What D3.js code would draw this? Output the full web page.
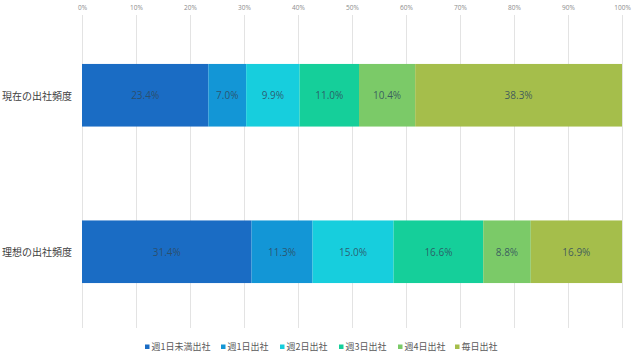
<!DOCTYPE html>
<html><head><meta charset="utf-8">
<script src="https://cdn.jsdelivr.net/npm/d3@7"></script>
<style>
html,body{margin:0;padding:0;background:#fff;}
svg{display:block;font-family:"Noto Sans CJK JP","Noto Sans",sans-serif;}
</style></head>
<body><svg id="c" width="638" height="356"></svg>
<script>
const categories = ["現在の出社頻度", "理想の出社頻度"];
const seriesNames = ["週1日未満出社", "週1日出社", "週2日出社", "週3日出社", "週4日出社", "毎日出社"];
const currentValues = [23.4, 7.0, 9.9, 11.0, 10.4, 38.3];
const idealValues = [31.4, 11.3, 15.0, 16.6, 8.8, 16.9];
const tickValues = [0, 10, 20, 30, 40, 50, 60, 70, 80, 90, 100];
const colors = ["#1a6cc4", "#1396d6", "#17cedd", "#15cf9a", "#7bca68", "#a5be4b"];

const rows = [currentValues, idealValues];
const svg = d3.select("#c");
const x = d3.scaleLinear().domain([0, 100]).range([82, 622]);
const y = d3.scaleBand().domain(categories).range([17, 330]).paddingInner(0.6).paddingOuter(0.3);

// grid lines
svg.append("g").selectAll("line").data(tickValues).join("line")
  .attr("x1", d => Math.round(x(d)) + 0.5).attr("x2", d => Math.round(x(d)) + 0.5)
  .attr("y1", 15).attr("y2", 328)
  .attr("stroke", "#e3e3e3").attr("stroke-width", 1);

// top axis labels
const ax = d3.axisTop(x).tickValues(tickValues).tickFormat(d => d + "%").tickSize(0).tickPadding(0);
const axg = svg.append("g").attr("transform", "translate(0,10)").call(ax);
axg.select(".domain").remove();
axg.selectAll("text").attr("fill", "#8c8c8c").style("font-size", "6.5px").style("font-family", "'Open Sans',sans-serif");

// bars
const stacked = rows.map((vals, i) => {
  let acc = 0;
  return vals.map((v, j) => { const s = acc; acc += v; return {cat: categories[i], s, e: acc, v, j}; });
});
const g = svg.append("g");
stacked.forEach(row => {
  g.selectAll(null).data(row).join("rect")
    .attr("x", d => x(d.s)).attr("width", d => x(d.e) - x(d.s))
    .attr("y", d => y(d.cat)).attr("height", y.bandwidth())
    .attr("fill", d => colors[d.j]);
  g.selectAll(null).data(row).join("text")
    .attr("x", d => (x(d.s) + x(d.e)) / 2)
    .attr("y", d => y(d.cat) + y.bandwidth() / 2)
    .attr("text-anchor", "middle").attr("dominant-baseline", "central")
    .attr("fill", "#2f4a5e").attr("fill-opacity", 0.85)
    .style("font-size", "10px").style("font-family", "'Open Sans',sans-serif")
    .text(d => d.v.toFixed(1) + "%");
});

// category labels
svg.append("g").selectAll("text").data(categories).join("text")
  .attr("x", 72).attr("y", d => y(d) + y.bandwidth() / 2)
  .attr("text-anchor", "end").attr("dominant-baseline", "central")
  .attr("fill", "#404040").style("font-size", "10px")
  .text(d => d);

// legend
const legendX = [145, 221, 280, 339, 398, 455];
const lg = svg.append("g");
seriesNames.forEach((n, i) => {
  lg.append("rect").attr("x", legendX[i]).attr("y", 344.5).attr("width", 4.5).attr("height", 4.5).attr("fill", colors[i]);
  lg.append("text").attr("x", legendX[i] + 6.5).attr("y", 346.8).attr("dominant-baseline", "central")
    .attr("fill", "#595959").style("font-size", "9px").text(n);
});
</script></body></html>
